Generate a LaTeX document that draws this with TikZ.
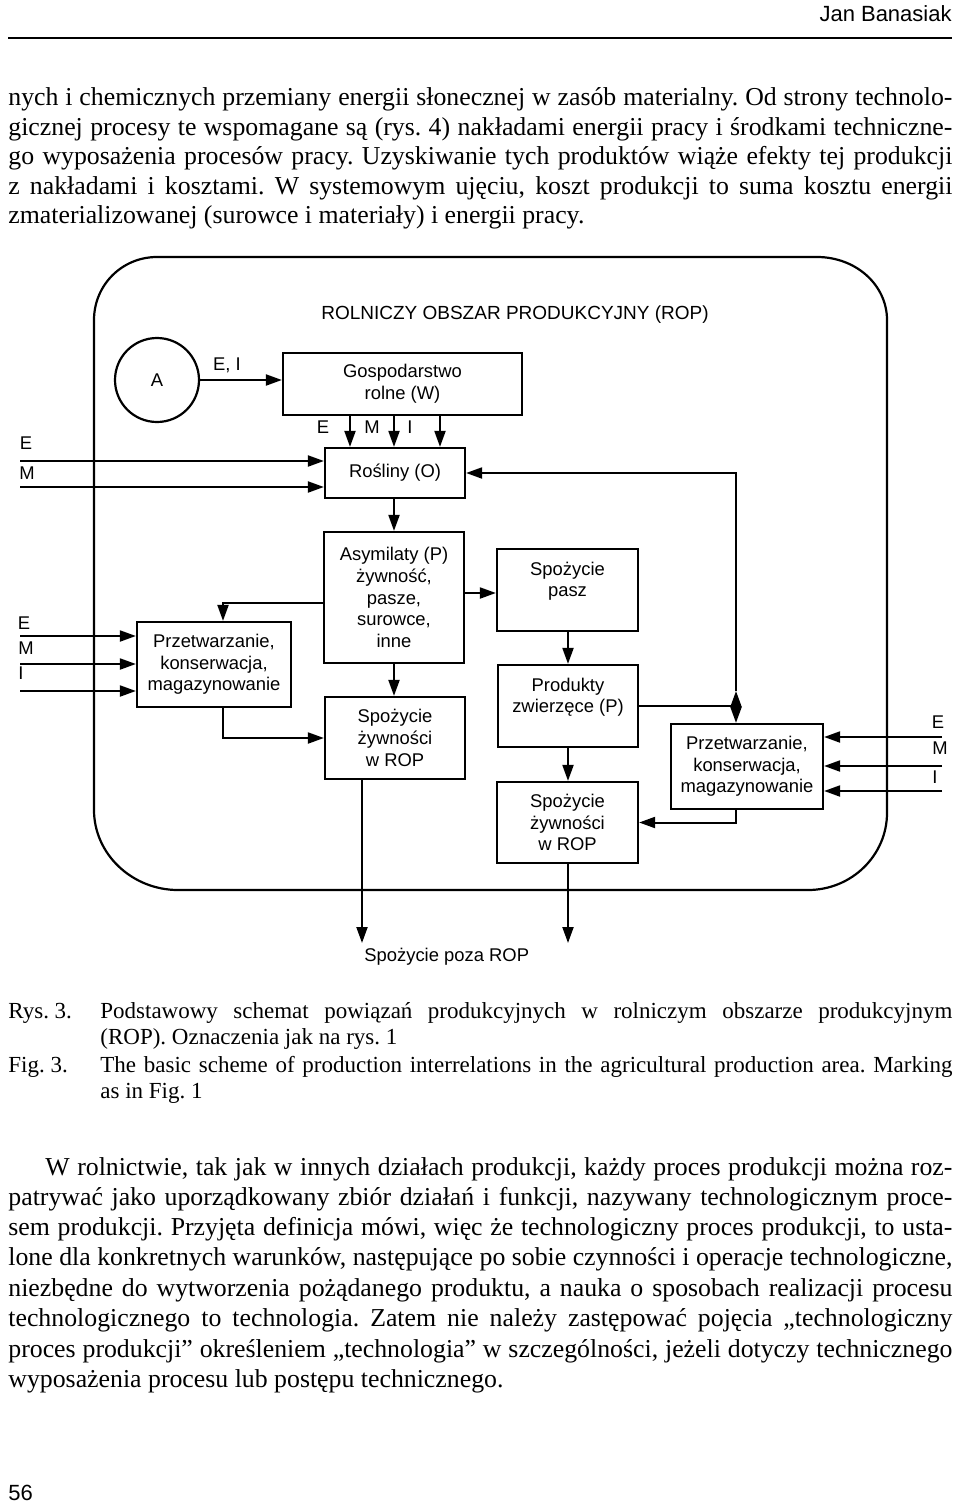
\documentclass[tikz,border=0pt]{standalone}
\usepackage{fontspec}
\setmainfont{Liberation Serif}
\setsansfont{Liberation Sans}
\usetikzlibrary{arrows.meta,calc}
\frenchspacing
\newcommand\bodyfont{\rmfamily\fontsize{12.9}{15}\selectfont}
\newcommand\capfont{\rmfamily\fontsize{11.5}{13}\selectfont}
\newcommand\dgfont{\sffamily\fontsize{9.2}{10.8}\selectfont}
\newcommand\jl[2]{\makebox[#1][s]{#2}}
\begin{document}
\begin{tikzpicture}[x=0.5pt,y=-0.5pt,
  bx/.style={draw, line width=1.1pt, inner sep=0pt, align=center, font=\dgfont},
  arr/.style={line width=1pt, -{Triangle[length=8pt,width=5.5pt]}},
  ln/.style={line width=1pt},
  lbl/.style={inner sep=0pt, font=\dgfont},
  tl/.style={anchor=base west, inner sep=0pt, font=\bodyfont},
  cl/.style={anchor=base west, inner sep=0pt, font=\capfont},
  frame/.style={line width=1.1pt}]
\useasboundingbox (0,0) rectangle (960,1504);
\fill[white] (0,0) rectangle (960,1504);

% header
\node[anchor=base east, inner sep=0pt, font=\sffamily\fontsize{11}{13}\selectfont] (hdr) at (952,22) {Jan Banasiak};
\draw[line width=1pt] (8,38) -- (952,38);

% paragraph 1
\node[tl] (p1a) at (8,105) {\jl{472pt}{nych i chemicznych przemiany energii słonecznej w zasób materialny. Od strony technolo-}};
\node[tl] (p1b) at (8,135) {\jl{472pt}{gicznej procesy te wspomagane są (rys. 4) nakładami energii pracy i środkami techniczne-}};
\node[tl] (p1c) at (8,164) {\jl{472pt}{go wyposażenia procesów pracy. Uzyskiwanie tych produktów wiąże efekty tej produkcji}};
\node[tl] (p1d) at (8,194) {\jl{472pt}{z nakładami i kosztami. W systemowym ujęciu, koszt produkcji to suma kosztu energii}};
\node[tl] (p1e) at (8,223) {zmaterializowanej (surowce i materiały) i energii pracy.};

% frame
\draw[frame] (157,257) -- (817,257) .. controls (856,257) and (887,285) .. (887,320)
  -- (887,813) .. controls (887,855) and (852,890) .. (808,890)
  -- (178,890) .. controls (132,890) and (94,854) .. (94,810)
  -- (94,320) .. controls (94,285) and (122,257) .. (157,257) -- cycle;

\node[lbl, font=\sffamily\fontsize{9.5}{11}\selectfont] (title) at (515,315) {ROLNICZY OBSZAR PRODUKCYJNY (ROP)};

% nodes
\node[circle, draw, line width=1.1pt, minimum size=42pt, inner sep=0pt, font=\dgfont] (A) at (157,380) {A};
\node[bx, minimum width=119.5pt, minimum height=31pt] (gosp) at (402.5,384) {Gospodarstwo\\rolne (W)};
\node[bx, minimum width=70pt, minimum height=25pt] (rosl) at (395,473) {Rośliny (O)};
\node[bx, minimum width=70pt, minimum height=65.5pt] (asym) at (394,597.5) {Asymilaty (P)\\żywność,\\pasze,\\surowce,\\inne};
\node[bx, minimum width=77pt, minimum height=42.5pt] (przL) at (214,664.5) {Przetwarzanie,\\konserwacja,\\magazynowanie};
\node[bx, minimum width=70pt, minimum height=41pt] (spozL) at (395,738) {Spożycie\\żywności\\w ROP};
\node[bx, minimum width=70.5pt, minimum height=41pt] (pasz) at (567.5,590) {Spożycie\\pasz\\\mbox{}};
\node[bx, minimum width=70pt, minimum height=41pt] (prod) at (568,706) {Produkty\\zwierzęce (P)\\\mbox{}};
\node[bx, minimum width=70.5pt, minimum height=40.5pt] (spozR) at (567.5,822.5) {Spożycie\\żywności\\w ROP};
\node[bx, minimum width=76pt, minimum height=42.5pt] (przR) at (747,766.5) {Przetwarzanie,\\konserwacja,\\magazynowanie};

% helper coordinates
\coordinate (xa) at (350,0);
\coordinate (xb) at (394,0);
\coordinate (xc) at (440,0);
\coordinate (xd) at (568,0);
\coordinate (y593) at (0,593);
\coordinate (k223) at (223,603);
\coordinate (inE1) at (20,461);
\coordinate (inM1) at (20,487);
\coordinate (inE2) at (20,636);
\coordinate (inM2) at (20,664);
\coordinate (inI2) at (20,691);
\coordinate (inE3) at (942,737);
\coordinate (inM3) at (942,766);
\coordinate (inI3) at (942,791);
\coordinate (out1) at (362,943);
\coordinate (out2) at (568,943);
\coordinate (J) at (736,706);
\coordinate (Ju) at (736,691);

% connectors
\draw[arr] (A.east) -- (A.east -| gosp.west);
\node[lbl] (lEI) at (227,365) {E, I};
\draw[arr] (gosp.south -| xa) -- (rosl.north -| xa);
\draw[arr] (gosp.south -| xb) -- (rosl.north -| xb);
\draw[arr] (gosp.south -| xc) -- (rosl.north -| xc);
\node[lbl] (lE0) at (323,427) {E};
\node[lbl] (lM0) at (372,427) {M};
\node[lbl] (lI0) at (410,427) {I};

\node[lbl] (lE1) at (26,443) {E};
\node[lbl] (lM1) at (27,473) {M};
\draw[arr] (inE1) -- (inE1 -| rosl.west);
\draw[arr] (inM1) -- (inM1 -| rosl.west);

\draw[arr] (rosl.south -| xb) -- (asym.north -| xb);
\draw[arr] (asym.east |- y593) -- (pasz.west |- y593);
\draw[arr] (asym.west |- k223) -| (przL.north -| k223);

\node[lbl] (lE2) at (24,623) {E};
\node[lbl] (lM2) at (26,648) {M};
\node[lbl] (lI2) at (21,673) {I};
\draw[arr] (inE2) -- (inE2 -| przL.west);
\draw[arr] (inM2) -- (inM2 -| przL.west);
\draw[arr] (inI2) -- (inI2 -| przL.west);

\draw[arr] (asym.south -| xb) -- (spozL.north -| xb);
\draw[arr] (przL.south -| k223) |- (spozL.west);
\draw[arr] (spozL.south -| out1) -- (out1);

\draw[arr] (pasz.south -| xd) -- (prod.north -| xd);
\draw[arr] (prod.south -| xd) -- (spozR.north -| xd);
\draw[arr] (spozR.south -| out2) -- (out2);

\draw[ln] (prod.east |- J) -- (J);
\draw[arr] (J) -- (Ju);
\draw[arr] (Ju) |- (rosl.east);
\draw[arr] (J) -- (przR.north -| J);
\draw[arr] (przR.south -| J) |- (spozR.east);

\node[lbl] (lE3) at (938,722) {E};
\node[lbl] (lM3) at (940,748) {M};
\node[lbl] (lI3) at (935,777) {I};
\draw[arr] (inE3) -- (inE3 -| przR.east);
\draw[arr] (inM3) -- (inM3 -| przR.east);
\draw[arr] (inI3) -- (inI3 -| przR.east);

\node[lbl, anchor=west] (poza) at (364,957) {Spożycie poza ROP};

% caption
\node[cl] (r3) at (8,1018) {Rys. 3.};
\node[cl] (r3a) at (100,1018) {\jl{426pt}{Podstawowy schemat powiązań produkcyjnych w rolniczym obszarze produkcyjnym}};
\node[cl] (r3b) at (100,1044) {(ROP). Oznaczenia jak na rys. 1};
\node[cl] (f3) at (8,1072) {Fig. 3.};
\node[cl] (f3a) at (100,1072) {\jl{426pt}{The basic scheme of production interrelations in the agricultural production area. Marking}};
\node[cl] (f3b) at (100,1098) {as in Fig. 1};

% paragraph 2
\node[tl] (p2a) at (45,1175) {\jl{453.5pt}{W rolnictwie, tak jak w innych działach produkcji, każdy proces produkcji można roz-}};
\node[tl] (p2b) at (8,1205) {\jl{472pt}{patrywać jako uporządkowany zbiór działań i funkcji, nazywany technologicznym proce-}};
\node[tl] (p2c) at (8,1235) {\jl{472pt}{sem produkcji. Przyjęta definicja mówi, więc że technologiczny proces produkcji, to usta-}};
\node[tl] (p2d) at (8,1265) {\jl{472pt}{lone dla konkretnych warunków, następujące po sobie czynności i operacje technologiczne,}};
\node[tl] (p2e) at (8,1296) {\jl{472pt}{niezbędne do wytworzenia pożądanego produktu, a nauka o sposobach realizacji procesu}};
\node[tl] (p2f) at (8,1326) {\jl{472pt}{technologicznego to technologia. Zatem nie należy zastępować pojęcia „technologiczny}};
\node[tl] (p2g) at (8,1357) {\jl{472pt}{proces produkcji” określeniem „technologia” w szczególności, jeżeli dotyczy technicznego}};
\node[tl] (p2h) at (8,1387) {wyposażenia procesu lub postępu technicznego.};

\node[anchor=base west, inner sep=0pt, font=\sffamily\fontsize{11}{13}\selectfont] (pg) at (8,1500) {56};
\end{tikzpicture}
\end{document}
